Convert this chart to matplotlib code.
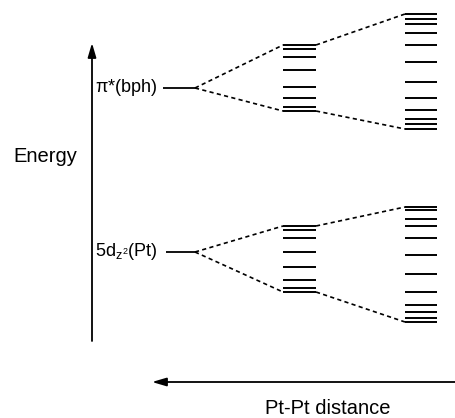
import matplotlib.pyplot as plt

plt.rcParams['font.family'] = ['Liberation Sans', 'DejaVu Sans']
plt.rcParams['mathtext.fontset'] = 'custom'
plt.rcParams['mathtext.rm'] = 'Liberation Sans'
plt.rcParams['mathtext.it'] = 'Liberation Sans'

# energy levels in arbitrary units (higher = more energy)
pi_level = 330
pi_dimer = [373, 369, 361, 348, 331, 320, 311, 307]
pi_chain = [404, 399, 394, 385, 373, 356, 336, 320, 308, 299, 294, 289]

dz2_level = 166
dz2_dimer = [192, 188, 180, 166, 151, 138, 130, 126]
dz2_chain = [211, 208, 199, 192, 180, 163, 144, 126, 113, 106, 100, 96]

level_labels = [r'$\pi$*(bph)', r'5d$_{z^{2}}$(Pt)']

fig = plt.figure(figsize=(4.56, 4.18), dpi=100)
ax = fig.add_axes([0, 0, 1, 1])
ax.set_xlim(0, 456)
ax.set_ylim(0, 418)
ax.axis('off')

# x extent of the monomer level, the dimer band and the chain band
single_x = [(163, 195), (166, 195)]
dimer_x = (283, 316)
chain_x = (405, 437)
dash = (0, (2.5, 2))


def connect(x0, y0, x1, y1):
    ax.plot([x0, x1], [y0, y1], color='k', lw=1.2, ls=dash)


groups = [(pi_level, pi_dimer, pi_chain), (dz2_level, dz2_dimer, dz2_chain)]
for i, (single, dimer, chain) in enumerate(groups):
    sx = single_x[i]
    ax.hlines(single, sx[0], sx[1], color='k', lw=1.3)
    ax.text(95, single, level_labels[i], fontsize=13, ha='left', va='center')
    ax.hlines(dimer, dimer_x[0], dimer_x[1], color='k', lw=1.4)
    ax.hlines(chain, chain_x[0], chain_x[1], color='k', lw=1.4)
    for y_d, y_c in [(max(dimer), max(chain)), (min(dimer), min(chain))]:
        connect(sx[1], single, dimer_x[0], y_d)
        connect(dimer_x[1], y_d, chain_x[0], y_c)

# energy axis
ax.annotate('', xy=(92, 375), xytext=(92, 77),
            arrowprops=dict(arrowstyle='-|>,head_length=0.85,head_width=0.25',
                            color='k', lw=1.3, shrinkA=0, shrinkB=0))
ax.text(13, 262, 'Energy', fontsize=14.5, ha='left', va='center')

# distance axis
ax.annotate('', xy=(152, 36), xytext=(456, 36),
            arrowprops=dict(arrowstyle='-|>,head_length=0.85,head_width=0.25',
                            color='k', lw=1.3, shrinkA=0, shrinkB=0))
ax.text(328, 10, 'Pt-Pt distance', fontsize=14.5, ha='center', va='center')

fig.savefig('out.png', dpi=100)
